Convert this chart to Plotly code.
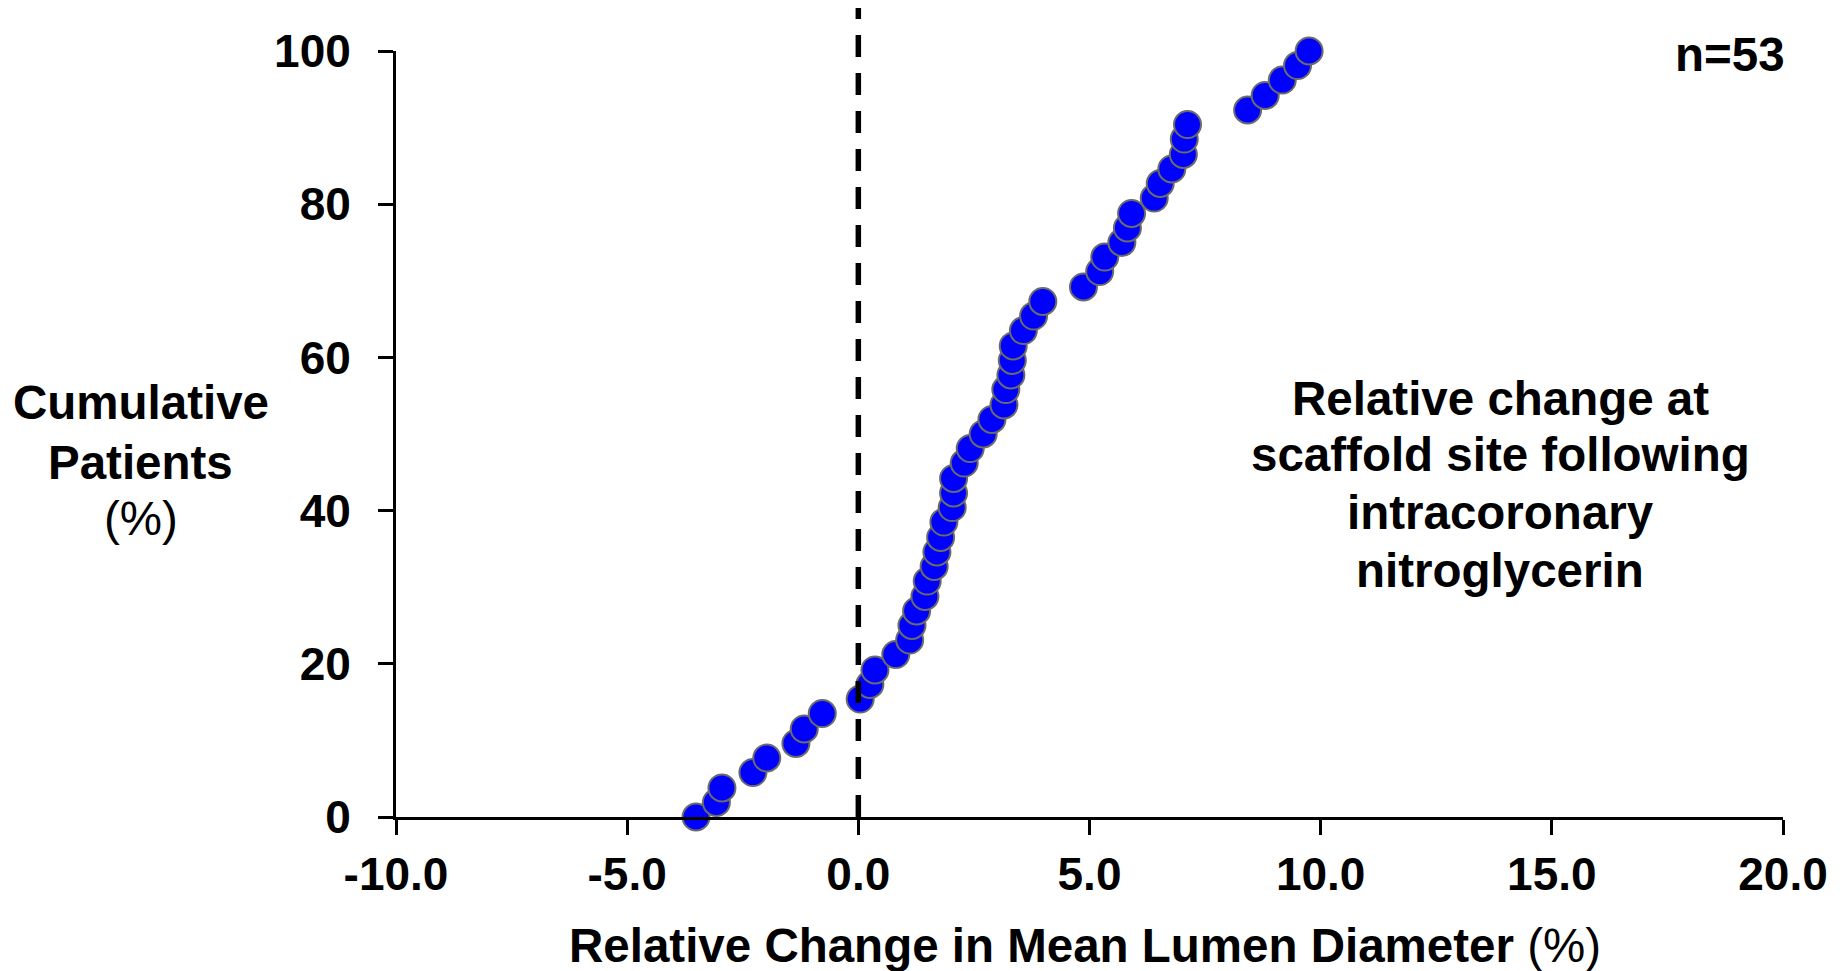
import plotly.graph_objects as go

# Relative change in mean lumen diameter (%) per patient, sorted
rel_change = [-3.51, -3.07, -2.95, -2.28, -1.98, -1.35, -1.17, -0.78, 0.04, 0.25,
              0.36, 0.81, 1.11, 1.16, 1.26, 1.44, 1.49, 1.64, 1.70, 1.78,
              1.85, 2.03, 2.06, 2.06, 2.29, 2.42, 2.70, 2.89, 3.15, 3.19,
              3.30, 3.33, 3.35, 3.57, 3.79, 3.99, 4.87, 5.22, 5.33, 5.70,
              5.82, 5.91, 6.40, 6.53, 6.78, 7.03, 7.05, 7.12, 8.42, 8.80,
              9.17, 9.50, 9.75]
# Cumulative patients (%)
cum_pct = [0.0, 1.9, 3.8, 5.8, 7.7, 9.6, 11.5, 13.5, 15.4, 17.3,
           19.2, 21.2, 23.1, 25.0, 26.9, 28.8, 30.8, 32.7, 34.6, 36.5,
           38.5, 40.4, 42.3, 44.2, 46.2, 48.1, 50.0, 51.9, 53.8, 55.8,
           57.7, 59.6, 61.5, 63.5, 65.4, 67.3, 69.2, 71.2, 73.1, 75.0,
           76.9, 78.8, 80.8, 82.7, 84.6, 86.5, 88.5, 90.4, 92.3, 94.2,
           96.2, 98.1, 100.0]

x_ticks = [-10, -5, 0, 5, 10, 15, 20]
x_tick_labels = ["-10.0", "-5.0", "0.0", "5.0", "10.0", "15.0", "20.0"]
y_ticks = [0, 20, 40, 60, 80, 100]
y_tick_labels = ["0", "20", "40", "60", "80", "100"]
ref_x = 0  # reference (no change) line

y_title_lines = ["<b>Cumulative</b>", "<b>Patients</b>", "(%)"]
note_lines = ["<b>Relative change at</b>", "<b>scaffold site following</b>",
              "<b>intracoronary</b>", "<b>nitroglycerin</b>"]

FONT = "Liberation Sans, Arial, Helvetica, sans-serif"
FS_TICK = 46
FS_TEXT = 47.5

fig = go.Figure()
fig.add_trace(go.Scatter(
    x=rel_change, y=cum_pct, mode="markers", cliponaxis=False,
    marker=dict(size=27, color="#0000FF", line=dict(color="#6b6b6b", width=2)),
    showlegend=False, hoverinfo="x+y",
))

fig.add_shape(type="line", xref="x", yref="paper", x0=ref_x, x1=ref_x, y0=0, y1=1.056,
              line=dict(color="black", width=5.5, dash="22px,16px"), layer="above")

annotations = []
for line, yp in zip(y_title_lines, [0.5405, 0.4634, 0.3896]):
    annotations.append(dict(xref="paper", yref="paper", x=-0.184, y=yp, xanchor="center",
                            yanchor="middle", showarrow=False, text=line,
                            font=dict(family=FONT, size=FS_TEXT, color="black")))
for line, yp in zip(note_lines, [0.5465, 0.4726, 0.3973, 0.3219]):
    annotations.append(dict(xref="paper", yref="paper", x=0.796, y=yp, xanchor="center",
                            yanchor="middle", showarrow=False, text=line,
                            font=dict(family=FONT, size=FS_TEXT, color="black")))
annotations.append(dict(xref="paper", yref="paper", x=0.497, y=-0.168, xanchor="center",
                        yanchor="middle", showarrow=False,
                        text="<b>Relative Change in Mean Lumen Diameter</b> (%)",
                        font=dict(family=FONT, size=FS_TEXT, color="black")))
annotations.append(dict(xref="paper", yref="paper", x=1.003, y=0.995, xanchor="right",
                        yanchor="middle", showarrow=False, text="<b>n=53</b>",
                        font=dict(family=FONT, size=FS_TEXT, color="black")))

fig.update_layout(
    width=1848, height=971,
    margin=dict(l=396, r=65, t=51, b=154),
    paper_bgcolor="white", plot_bgcolor="white",
    font=dict(family=FONT, size=FS_TEXT, color="black"),
    xaxis=dict(range=[-10, 20], tickvals=x_ticks, ticktext=["<b>%s</b>" % t for t in x_tick_labels],
               showgrid=False, zeroline=False, showline=True, linecolor="black", linewidth=3,
               ticks="outside", ticklen=15, tickwidth=3, tickcolor="black",
               ticklabelstandoff=0, tickfont=dict(family=FONT, size=FS_TICK, color="black")),
    yaxis=dict(range=[0, 100], tickvals=y_ticks, ticktext=["<b>%s</b>" % t for t in y_tick_labels],
               showgrid=False, zeroline=False, showline=True, linecolor="black", linewidth=3,
               ticks="outside", ticklen=15, tickwidth=3, tickcolor="black",
               ticklabelstandoff=18, tickfont=dict(family=FONT, size=FS_TICK, color="black")),
    annotations=annotations,
)

fig.write_html("out.html")
